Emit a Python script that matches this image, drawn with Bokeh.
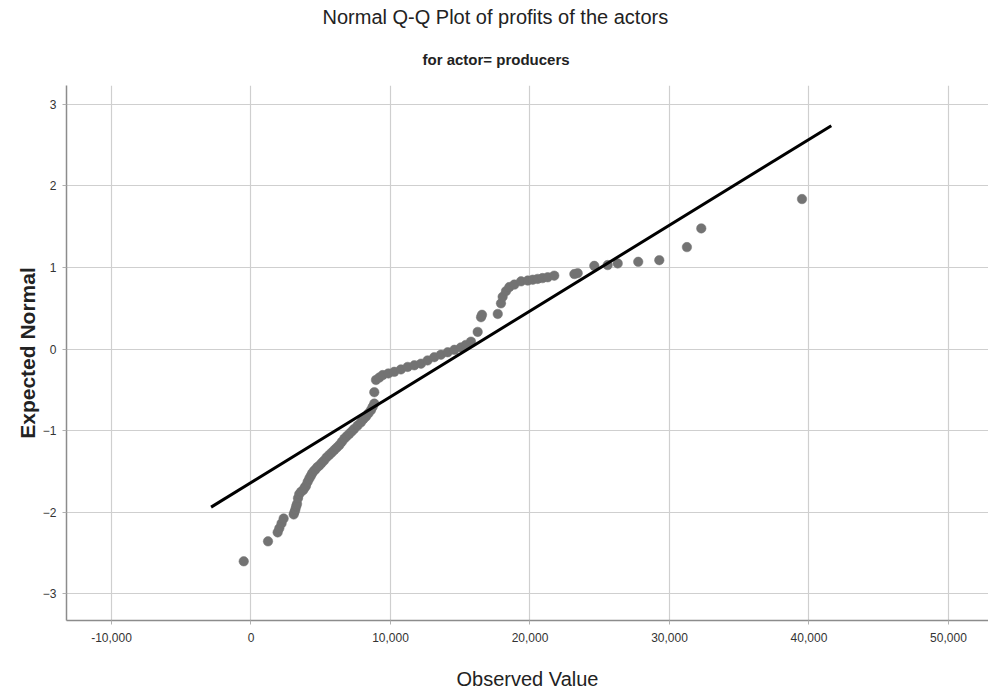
from bokeh.plotting import figure
from bokeh.models import Title, NumeralTickFormatter, FixedTicker, Range1d
from bokeh.embed import file_html
from bokeh.resources import INLINE

FONT = "Liberation Sans"

observed = [
    -520, 1220, 1910, 2030, 2190, 2340,
    3060, 3120, 3180, 3240, 3300, 3370, 3460, 3600, 3750, 3850,
    3940, 4060, 4180, 4280, 4370, 4490, 4610, 4750, 4900, 5060,
    5230, 5420, 5610, 5790, 5970, 6150, 6330, 6510, 6690, 6870,
    7050, 7230, 7400, 7640, 7880, 8060, 8240, 8420, 8600, 8720, 8840,
    8840, 8960,
    9200, 9440, 9850, 10270, 10750, 11230, 11710, 12190, 12660, 13140,
    13620, 14100, 14580, 15050, 15400, 15770,
    16250, 16490, 16560, 17690, 17920, 18040, 18280, 18520, 18880, 19360,
    19840, 20200, 20550, 20900, 21270, 21740,
    23180, 23420, 24610, 25570, 26290, 27760, 29270, 31250, 32280, 39500,
]
expected = [
    -2.605, -2.36, -2.25, -2.20, -2.14, -2.08,
    -2.03, -2.00, -1.97, -1.93, -1.90, -1.83, -1.78, -1.75, -1.73, -1.70,
    -1.68, -1.63, -1.59, -1.56, -1.53, -1.50, -1.48, -1.45, -1.43, -1.40,
    -1.37, -1.33, -1.30, -1.27, -1.24, -1.21, -1.18, -1.14, -1.10, -1.07,
    -1.04, -1.01, -0.98, -0.94, -0.90, -0.86, -0.83, -0.79, -0.75, -0.71, -0.67,
    -0.53, -0.38,
    -0.35, -0.32, -0.30, -0.28, -0.25, -0.22, -0.20, -0.18, -0.14, -0.10,
    -0.07, -0.04, -0.01, 0.02, 0.05, 0.09,
    0.21, 0.39, 0.42, 0.43, 0.56, 0.64, 0.71, 0.76, 0.79, 0.83,
    0.84, 0.85, 0.86, 0.87, 0.88, 0.90,
    0.92, 0.93, 1.02, 1.03, 1.05, 1.07, 1.09, 1.25, 1.48, 1.84,
]

line_x = [-2860, 41600]
line_y = [-1.94, 2.74]

x_ticks = [-10000, 0, 10000, 20000, 30000, 40000, 50000]
y_ticks = [-3, -2, -1, 0, 1, 2, 3]

p = figure(width=988, height=692, output_backend="svg", toolbar_location=None,
           x_range=Range1d(-13226, 52870), y_range=Range1d(-3.331, 3.233),
           min_border_left=66, min_border_right=0, min_border_top=85,
           min_border_bottom=72)
p.outline_line_color = None
p.background_fill_color = "white"
p.border_fill_color = "white"

p.title = Title(text="Normal Q-Q Plot of profits of the actors", align="left",
                offset=256, text_font=FONT, text_font_size="20px",
                text_color="#222222", text_font_style="normal", standoff=5)
p.add_layout(Title(text="for actor= producers", align="left", offset=356,
                   text_font=FONT, text_font_size="15px", text_font_style="bold",
                   text_color="#222222", standoff=36), "above")

for ax in (p.xaxis, p.yaxis):
    ax.axis_line_color = "#8c8c8c"
    ax.axis_line_width = 1.5
    ax.major_tick_line_color = "#b0b0b0"
    ax.major_tick_in = 0
    ax.major_tick_out = 4
    ax.minor_tick_line_color = None
    ax.major_label_text_font = FONT
    ax.major_label_text_font_size = "12px"
    ax.major_label_text_color = "#333333"

p.xaxis.ticker = FixedTicker(ticks=x_ticks)
p.yaxis.ticker = FixedTicker(ticks=y_ticks)
p.xaxis.formatter = NumeralTickFormatter(format="0,0")
p.xaxis.major_label_standoff = 8
p.yaxis.major_label_standoff = 6

p.xaxis.axis_label = "Observed Value"
p.xaxis.axis_label_text_font = FONT
p.xaxis.axis_label_text_font_size = "20px"
p.xaxis.axis_label_text_font_style = "normal"
p.xaxis.axis_label_text_color = "#222222"
p.xaxis.axis_label_standoff = 23

p.yaxis.axis_label = "Expected Normal"
p.yaxis.axis_label_text_font = FONT
p.yaxis.axis_label_text_font_size = "21px"
p.yaxis.axis_label_text_font_style = "bold"
p.yaxis.axis_label_text_color = "#222222"
p.yaxis.axis_label_standoff = 1

p.xgrid.ticker = FixedTicker(ticks=x_ticks)
p.ygrid.ticker = FixedTicker(ticks=y_ticks)
p.xgrid.grid_line_color = "#cfcfcf"
p.ygrid.grid_line_color = "#cfcfcf"
p.xgrid.grid_line_width = 1.2
p.ygrid.grid_line_width = 1.2

p.scatter(observed, expected, size=9.5, fill_color="#737373", line_color="#737373",
          line_width=0.5)
p.line(line_x, line_y, line_color="black", line_width=3)

open("out.html", "w").write(file_html(p, INLINE))
